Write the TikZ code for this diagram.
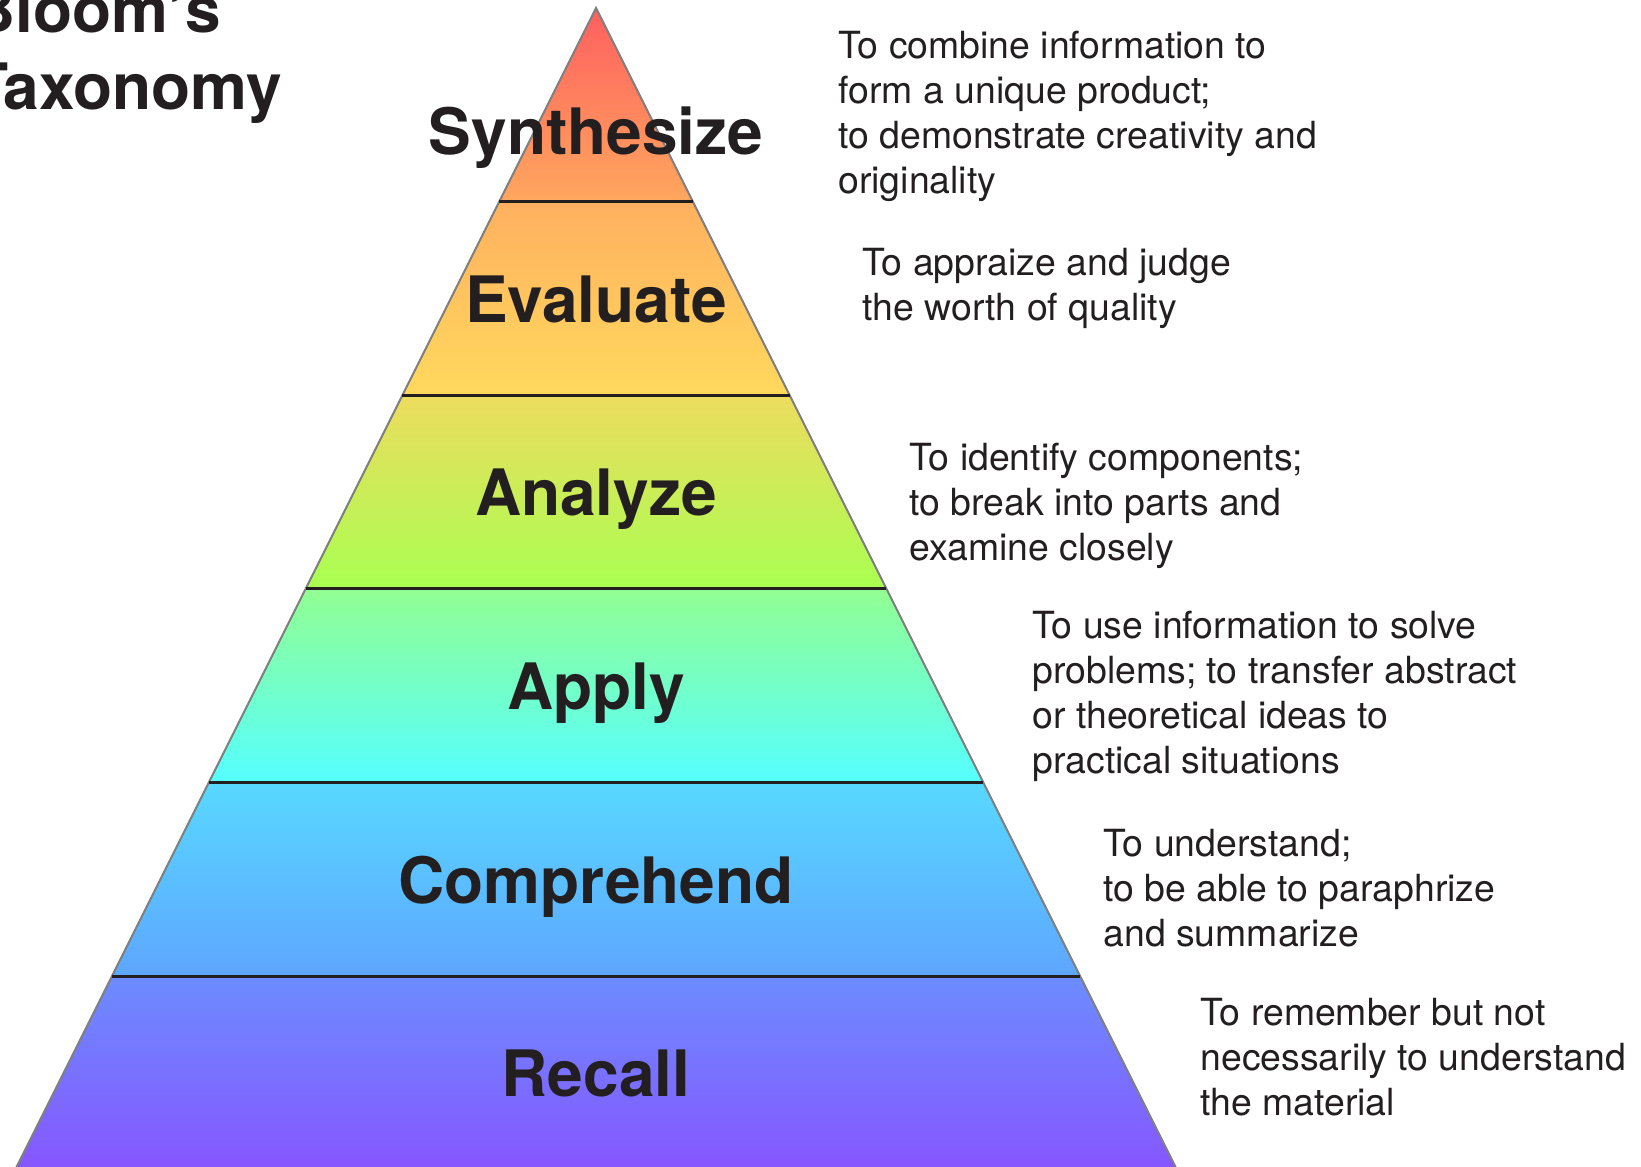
\documentclass[tikz,border=0pt]{standalone}
\usepackage{fontspec}
\setmainfont{TeX Gyre Heros}
\usetikzlibrary{positioning, calc}
\definecolor{synTop}{HTML}{FF5F5F}
\definecolor{synBot}{HTML}{FFA75E}
\definecolor{evaTop}{HTML}{FFB05F}
\definecolor{evaBot}{HTML}{FFD95E}
\definecolor{anaTop}{HTML}{EDDC5E}
\definecolor{anaBot}{HTML}{A9FF52}
\definecolor{appTop}{HTML}{92FF92}
\definecolor{appBot}{HTML}{55FFFF}
\definecolor{comTop}{HTML}{58D8FF}
\definecolor{comBot}{HTML}{5EA6FF}
\definecolor{recTop}{HTML}{6C8CFF}
\definecolor{recBot}{HTML}{8656FF}
\definecolor{inkDark}{HTML}{231F20}
\definecolor{edgeGray}{HTML}{7F7F7F}
\tikzset{
    Divider/.style = {line width=1.5pt, color=inkDark},
    Outline/.style = {line width=1pt, color=edgeGray},
    Level/.style = {
        font=\fontsize{32}{38}\selectfont\bfseries,
        text=inkDark, inner sep=0pt, anchor=base
    },
    % base of a multi-line node is its last line
    Goal/.style = {
        font=\fontsize{18.7}{22.5}\selectfont,
        text=inkDark, align=left, inner sep=0pt, anchor=base west
    },
    Title/.style = {
        font=\fontsize{32}{38.5}\selectfont\bfseries,
        text=inkDark, align=left, inner sep=0pt, anchor=base west
    }
}

\begin{document}
\begin{tikzpicture}[x=0.5pt, y=-0.5pt]
    \useasboundingbox (0,0) rectangle (1641,1166);
    % pyramid bands
    \foreach \i/\tc/\bc in {0/synTop/synBot, 1/evaTop/evaBot, 2/anaTop/anaBot,
                            3/appTop/appBot, 4/comTop/comBot, 5/recTop/recBot} {
        \pgfmathsetmacro\ya{8+193.6*\i}
        \pgfmathsetmacro\yb{8+193.6*(\i+1)}
        \shade [top color=\tc, bottom color=\bc]
            ({596-0.5*(\ya-8)},\ya) -- ({596+0.5*(\ya-8)},\ya)
            -- ({596+0.5*(\yb-8)},\yb) -- ({596-0.5*(\yb-8)},\yb) -- cycle;
    }
    \coordinate (apex) at (596,8);
    \coordinate (baseL) at (15,1170);
    \coordinate (baseR) at (1177,1170);
    \draw [Outline] (baseL) -- (apex) -- (baseR);
    \foreach \i in {1,...,5} {
        \pgfmathsetmacro\yd{8+193.6*\i}
        \draw [Divider] ({596-0.5*(\yd-8)},\yd) -- ({596+0.5*(\yd-8)},\yd);
    }
    % level names
    \node [Level] (syn) at (596,155) {Synthesize};
    \node [Level] (eva) at (596,322) {Evaluate};
    \node [Level] (ana) at (596,515) {Analyze};
    \node [Level] (app) at (596,709) {Apply};
    \node [Level] (com) at (596,903) {Comprehend};
    \node [Level] (rec) at (596,1096) {Recall};
    % descriptions
    \node [Goal] (synGoal) at (838,194) {To combine information to\\form a unique product;\\to demonstrate creativity and\\originality};
    \node [Goal] (evaGoal) at (862,320) {To appraize and judge\\the worth of quality};
    \node [Goal] (anaGoal) at (909,560) {To identify components;\\to break into parts and\\examine closely};
    \node [Goal] (appGoal) at (1032,773) {To use information to solve\\problems; to transfer abstract\\or theoretical ideas to\\practical situations};
    \node [Goal] (comGoal) at (1103,946) {To understand;\\to be able to paraphrize\\and summarize};
    \node [Goal] (recGoal) at (1200,1115) {To remember but not\\necessarily to understand\\the material};
    \node [Title] (title) at (-31,110) {Bloom's\\Taxonomy};
\end{tikzpicture}
\end{document}
